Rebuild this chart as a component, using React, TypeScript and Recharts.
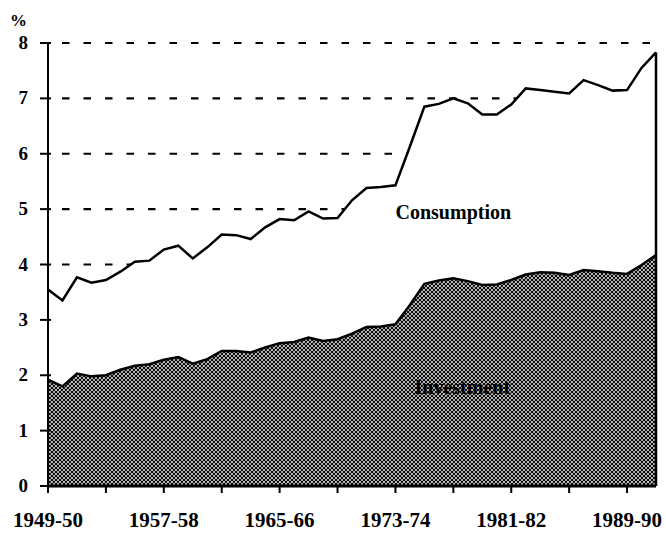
import React from "react";
import {
  AreaChart,
  Area,
  XAxis,
  YAxis,
  CartesianGrid,
  ReferenceDot,
  ReferenceLine,
} from "recharts";

const years = [
  "1949-50", "1950-51", "1951-52", "1952-53", "1953-54", "1954-55", "1955-56",
  "1956-57", "1957-58", "1958-59", "1959-60", "1960-61", "1961-62", "1962-63",
  "1963-64", "1964-65", "1965-66", "1966-67", "1967-68", "1968-69", "1969-70",
  "1970-71", "1971-72", "1972-73", "1973-74", "1974-75", "1975-76", "1976-77",
  "1977-78", "1978-79", "1979-80", "1980-81", "1981-82", "1982-83", "1983-84",
  "1984-85", "1985-86", "1986-87", "1987-88", "1988-89", "1989-90", "1990-91",
  "1991-92",
];

// top line: consumption + investment
const totalShare = [
  3.55, 3.35, 3.77, 3.67, 3.72, 3.87, 4.05, 4.07, 4.27, 4.34,
  4.11, 4.31, 4.54, 4.53, 4.46, 4.67, 4.82, 4.8, 4.96, 4.83,
  4.84, 5.16, 5.38, 5.4, 5.43, 6.13, 6.85, 6.9, 7.0, 6.91,
  6.71, 6.71, 6.89, 7.18, 7.15, 7.12, 7.09, 7.33, 7.24, 7.14,
  7.15, 7.55, 7.83,
];

const investmentShare = [
  1.92, 1.8, 2.03, 1.98, 2.0, 2.1, 2.17, 2.2, 2.28, 2.33,
  2.21, 2.29, 2.44, 2.44, 2.41, 2.5, 2.58, 2.6, 2.68, 2.62,
  2.65, 2.75, 2.87, 2.88, 2.92, 3.27, 3.65, 3.71, 3.75, 3.7,
  3.63, 3.64, 3.72, 3.82, 3.86, 3.85, 3.81, 3.9, 3.88, 3.85,
  3.83, 3.99, 4.17,
];

const yTicks = [0, 1, 2, 3, 4, 5, 6, 7, 8];

const data = years.map((year, i) => ({
  year,
  total: totalShare[i],
  investment: investmentShare[i],
}));

const serif = "'Liberation Serif', 'Times New Roman', serif";

function YTick({ x, y, payload }: any) {
  const axisX = x + 20;
  return (
    <g>
      <line x1={axisX - 8} x2={axisX + 3} y1={y} y2={y} stroke="#000" strokeWidth={2} />
      <text
        x={x}
        y={y}
        dy={6}
        textAnchor="end"
        fontFamily={serif}
        fontWeight="bold"
        fontSize={19}
        fill="#000"
      >
        {payload.value}
      </text>
    </g>
  );
}

function XTick({ x, y, payload, index }: any) {
  if (index % 4 !== 0) return <g />;
  return (
    <g>
      <line x1={x} x2={x} y1={y - 7} y2={y} stroke="#000" strokeWidth={2} />
      {index % 8 === 0 && (
        <text
          x={x}
          y={y + 34}
          textAnchor="middle"
          fontFamily={serif}
          fontWeight="bold"
          fontSize={21}
          fill="#000"
        >
          {payload.value}
        </text>
      )}
    </g>
  );
}

export default function App() {
  const last = years.length - 1;
  return (
    <div style={{ position: "absolute", left: 0, top: 0, width: 666, height: 536, background: "#fff" }}>
      <div
        style={{
          position: "absolute",
          left: 10,
          top: 11,
          fontFamily: serif,
          fontWeight: "bold",
          fontSize: 17,
        }}
      >
        %
      </div>
      <AreaChart
        width={666}
        height={536}
        data={data}
        margin={{ top: 43, right: 10, bottom: 0, left: 8 }}
      >
        <defs>
          <pattern id="hatch" patternUnits="userSpaceOnUse" width={4} height={4}>
            <rect width={4} height={4} fill="#fff" />
            <path d="M0,0L4,4M4,0L0,4M-1,1L1,-1M3,5L5,3" stroke="#000" strokeWidth={1.2} />
          </pattern>
        </defs>
        <CartesianGrid
          vertical={false}
          stroke="#000"
          strokeWidth={2.2}
          strokeDasharray="0 14 7.5 0"
        />
        <Area
          type="linear"
          dataKey="total"
          stroke="#000"
          strokeWidth={2.5}
          fill="#fff"
          fillOpacity={1}
          dot={false}
          activeDot={false}
          isAnimationActive={false}
        />
        <Area
          type="linear"
          dataKey="investment"
          stroke="#000"
          strokeWidth={2.5}
          fill="url(#hatch)"
          fillOpacity={1}
          dot={false}
          activeDot={false}
          isAnimationActive={false}
        />
        <ReferenceLine
          segment={[
            { x: years[last], y: 0 },
            { x: years[last], y: totalShare[last] },
          ]}
          stroke="#000"
          strokeWidth={2.5}
        />
        <ReferenceDot
          x={years[28]}
          y={4.95}
          r={0}
          fill="none"
          stroke="none"
          label={{
            value: "Consumption",
            position: "center",
            fontFamily: serif,
            fontWeight: "bold",
            fontSize: 20,
            fill: "#000",
          }}
        />
        <ReferenceDot
          x={years[28]}
          y={1.79}
          r={0}
          fill="none"
          stroke="none"
          label={{
            value: "Investment",
            position: "center",
            dx: 9,
            fontFamily: serif,
            fontWeight: "bold",
            fontSize: 20,
            fill: "#000",
          }}
        />
        <XAxis
          dataKey="year"
          interval={0}
          height={50}
          tickLine={false}
          tickSize={7}
          tickMargin={0}
          axisLine={{ stroke: "#000", strokeWidth: 3 }}
          tick={<XTick />}
        />
        <YAxis
          domain={[0, 8]}
          ticks={yTicks}
          width={40}
          tickLine={false}
          tickSize={8}
          tickMargin={12}
          axisLine={{ stroke: "#000", strokeWidth: 2 }}
          tick={<YTick />}
        />
      </AreaChart>
    </div>
  );
}
